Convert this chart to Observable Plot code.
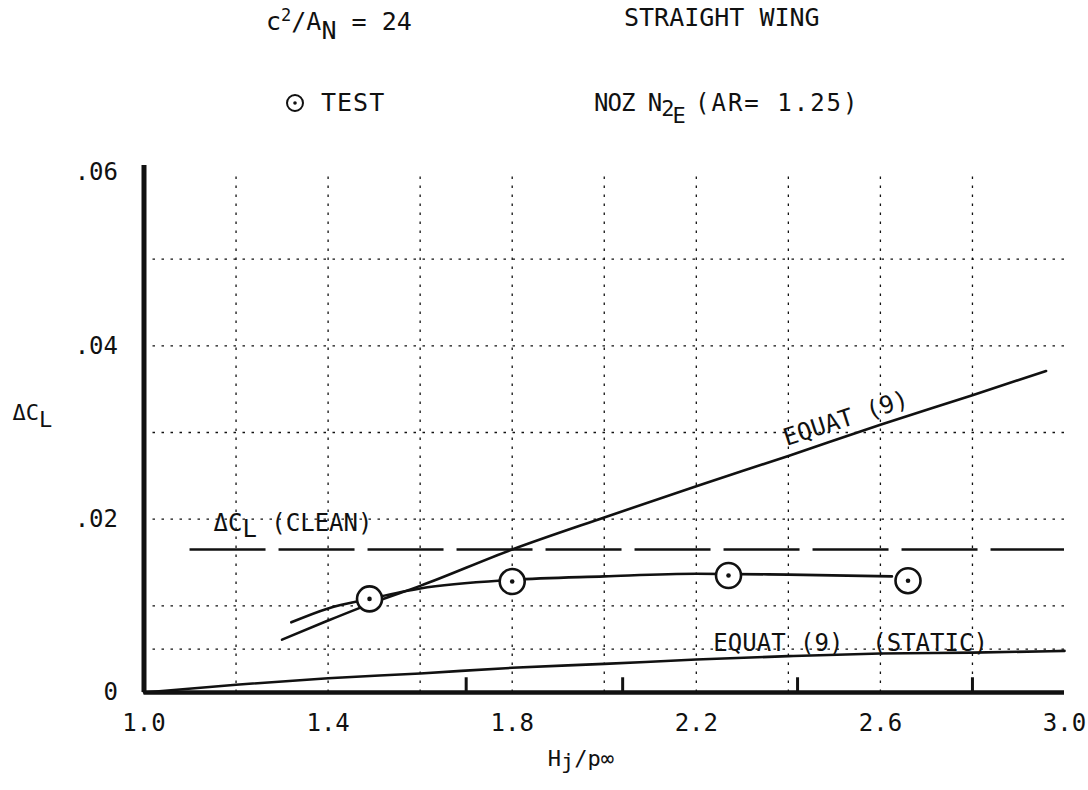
<!DOCTYPE html>
<html><head><meta charset="utf-8">
<script src="https://cdn.jsdelivr.net/npm/d3@7"></script>
<script src="https://cdn.jsdelivr.net/npm/@observablehq/plot@0.6"></script>
<style>
html,body{margin:0;padding:0;background:#fff;}
#wrap{position:relative;width:1088px;height:790px;font-family:"DejaVu Sans Mono",monospace;font-size:25px;color:#111;}
.hd{position:absolute;white-space:pre;line-height:24px;}
.sb{position:relative;}
#chart{position:absolute;left:0;top:0;}
</style></head><body><div id="wrap">
<div id="chart"></div>
<div class="hd" style="left:266px;top:10px">c<span class="sb" style="font-size:17px;top:-9px">2</span>/A<span class="sb" style="top:9px">N</span> = 24</div>
<div class="hd" style="left:624px;top:6px">STRAIGHT WING</div>
<svg class="hd" style="left:285px;top:93px" width="20" height="20"><circle cx="10" cy="10" r="8" fill="#fff" stroke="#111" stroke-width="2"/><circle cx="10" cy="10" r="1.8" fill="#111"/></svg>
<div class="hd" style="left:321px;top:91px;letter-spacing:1px">TEST</div>
<div class="hd" style="left:594px;top:91px;font-size:24px;letter-spacing:-1px">NOZ N<span class="sb" style="top:5px;font-size:22px;letter-spacing:-2px">2</span><span class="sb" style="top:12px;font-size:22px;letter-spacing:0">E</span></div>
<div class="hd" style="left:695px;top:91px;font-size:24px;letter-spacing:2px">(AR= 1.25)</div>
</div>
<script>
const xTicks = [1.0, 1.4, 1.8, 2.2, 2.6, 3.0];
const xTickLabels = ["1.0", "1.4", "1.8", "2.2", "2.6", "3.0"];
const yTicks = [0, 0.02, 0.04, 0.06];
const yTickLabels = ["0", ".02", ".04", ".06"];
const xGrid = [1.2, 1.4, 1.6, 1.8, 2.0, 2.2, 2.4, 2.6, 2.8];
const yGrid = [0.005, 0.01, 0.02, 0.03, 0.04, 0.05];

const testX = [1.49, 1.80, 2.27, 2.66];
const testY = [0.0108, 0.0128, 0.0135, 0.0129];

const fairX = [1.32, 1.40, 1.49, 1.60, 1.80, 2.00, 2.20, 2.40, 2.625];
const fairY = [0.0081, 0.0097, 0.0108, 0.0120, 0.0130, 0.0134, 0.0137, 0.0136, 0.0134];

const equatX = [1.30, 1.40, 1.50, 1.60, 1.80, 2.00, 2.20, 2.40, 2.60, 2.80, 2.96];
const equatY = [0.0061, 0.0083, 0.0104, 0.0123, 0.0165, 0.0202, 0.0238, 0.0273, 0.0309, 0.0343, 0.0371];

const staticX = [1.0, 1.2, 1.4, 1.6, 1.8, 2.0, 2.2, 2.4, 2.6, 2.8, 3.0];
const staticY = [0, 0.0009, 0.00165, 0.0022, 0.00285, 0.0033, 0.0038, 0.0042, 0.0045, 0.0046, 0.0048];

const cleanX = [1.1, 3.0];
const cleanY = 0.0165;

const staticTickX = [1.70, 2.04, 2.42, 2.80];
const staticTickH = 0.0017;

const zipXY = (xs, ys) => xs.map((x, i) => ({x, y: ys[i]}));
const ink = "#111";

const plot = Plot.plot({
  width: 1088, height: 790,
  marginTop: 172, marginBottom: 98, marginLeft: 143.5, marginRight: 24,
  x: {domain: [1, 3]},
  y: {domain: [0, 0.06]},
  style: {fontFamily: "DejaVu Sans Mono, monospace", fontSize: "24px", color: ink, background: "white", overflow: "visible"},
  marks: [
    Plot.ruleX(xGrid, {y1: 0, y2: 0.06, stroke: ink, strokeWidth: 1.3, strokeDasharray: "2.5,6.5"}),
    Plot.ruleY(yGrid, {x1: 1, x2: 3, stroke: ink, strokeWidth: 1.3, strokeDasharray: "2.5,6.5"}),
    Plot.ruleY([cleanY], {x1: cleanX[0], x2: cleanX[1], stroke: ink, strokeWidth: 2.6, strokeDasharray: "76,13"}),
    Plot.line(zipXY(staticX, staticY), {x: "x", y: "y", curve: "monotone-x", stroke: ink, strokeWidth: 2.6}),
    Plot.line(zipXY(equatX, equatY), {x: "x", y: "y", curve: "monotone-x", stroke: ink, strokeWidth: 2.6}),
    Plot.line(zipXY(fairX, fairY), {x: "x", y: "y", curve: "monotone-x", stroke: ink, strokeWidth: 2.6}),
    Plot.ruleX(staticTickX, {y1: 0, y2: staticTickH, stroke: ink, strokeWidth: 3}),
    Plot.ruleX([1], {y1: 0, y2: 0.0608, stroke: ink, strokeWidth: 5}),
    Plot.ruleY([0], {x1: 1, x2: 3, stroke: ink, strokeWidth: 4.5}),
    Plot.dot(zipXY(testX, testY), {x: "x", y: "y", r: 12.5, fill: "white", stroke: ink, strokeWidth: 2.6}),
    Plot.dot(zipXY(testX, testY), {x: "x", y: "y", r: 2.3, fill: ink}),
    Plot.axisX(xTicks, {tickSize: 0, tickPadding: 21, tickFormat: (d, i) => xTickLabels[i], label: null, fontSize: 24}),
    Plot.axisY(yTicks, {tickSize: 0, tickPadding: 26, tickFormat: (d, i) => yTickLabels[i], label: null, fontSize: 24}),
    Plot.text(["EQUAT (9)"], {x: 2.525, y: 0.0316, rotate: -18, textAnchor: "middle", fontSize: 24, fill: ink}),
    Plot.text(["EQUAT (9)  (STATIC)"], {x: 2.237, y: 0.00565, textAnchor: "start", fontSize: 24, fill: ink}),
    Plot.text(["ΔC_[0.25]{L} (CLEAN)"], {x: 1.151, y: 0.0195, textAnchor: "start", fontSize: 24, fill: ink}),
    Plot.text(["ΔC_[0.32]{L}"], {frameAnchor: "left", dx: -131.5, dy: -20, textAnchor: "start", fontSize: 22, fill: ink}),
    Plot.text(["H_[0.18]{j}/p∞"], {frameAnchor: "bottom", dx: -56.5, dy: 73, textAnchor: "start", fontSize: 22, fill: ink})
  ]
});

function rich(svg) {
  svg.querySelectorAll("text").forEach(t => {
    const s = t.textContent;
    if (!/_(\[[\d.]+\])?\{/.test(s)) return;
    while (t.firstChild) t.removeChild(t.firstChild);
    const re = /_(?:\[([\d.]+)\])?\{([^}]*)\}|([^_]+)/g;
    let m, shift = 0;
    while ((m = re.exec(s))) {
      const ts = document.createElementNS("http://www.w3.org/2000/svg", "tspan");
      if (m[3] !== undefined) {
        ts.textContent = m[3];
        if (shift) { ts.setAttribute("dy", (-shift) + "em"); shift = 0; }
      } else {
        const d = m[1] ? +m[1] : 0.35;
        ts.textContent = m[2];
        ts.setAttribute("dy", d + "em");
        shift = d;
      }
      t.appendChild(ts);
    }
  });
}
rich(plot);
document.getElementById("chart").appendChild(plot);
</script>
</body></html>
